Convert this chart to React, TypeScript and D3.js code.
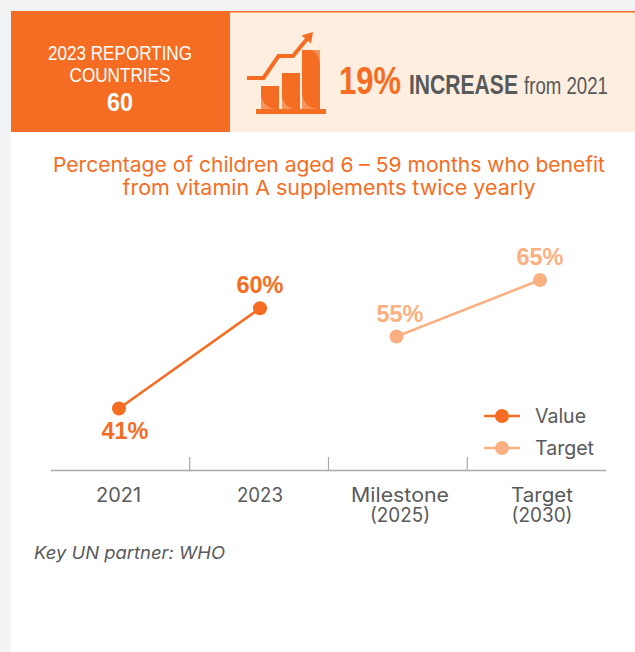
import React from "react";
import * as d3 from "d3";

const categories = ["2021", "2023", "Milestone|(2025)", "Target|(2030)"];
const valueSeries = [
  { category: categories[0], value: 41 },
  { category: categories[1], value: 60 },
];
const targetSeries = [
  { category: categories[2], value: 55 },
  { category: categories[3], value: 65 },
];
const legendItems = ["Value", "Target"];

const ORANGE = "#f56d22";
const ORANGE_LIGHT = "#f8935a";
const PEACH = "#fbb081";
const CREAM = "#feeee0";
const PAGE = "#f1f3f5";
const GREY = "#58595b";
const AXIS = "#a7a9ac";
const BODY_FONT = "Inter, 'Open Sans', sans-serif";
const HEAD_FONT = "'Liberation Sans', Arial, sans-serif";

// Axis divisions, and the slightly uneven centres the marks and labels sit on.
const band = d3.scaleBand<string>().domain(categories).range([51, 606]);
const markX = d3.scaleOrdinal<string, number>().domain(categories).range([119, 260, 396.5, 540]);
const labelX = d3.scaleOrdinal<string, number>().domain(categories).range([118.5, 260, 400, 542]);
const valueLabelX = d3.scaleOrdinal<string, number>().domain(categories).range([125, 260, 400, 540]);

// Each series runs on its own vertical scale.
const yValue = d3.scaleLinear().domain([41, 60]).range([408.5, 308.3]);
const yTarget = d3.scaleLinear().domain([55, 65]).range([336.5, 280]);

const AXIS_Y = 470.5;

type Datum = { category: string; value: number };

function Series({
  data,
  color,
  y,
  below,
}: {
  data: Datum[];
  color: string;
  y: d3.ScaleLinear<number, number>;
  below: boolean[];
}) {
  const path = d3
    .line<Datum>()
    .x((d) => markX(d.category))
    .y((d) => y(d.value));
  return (
    <g>
      <path d={path(data)!} fill="none" stroke={color} strokeWidth={2.5} />
      {data.map((d, i) => {
        const cy = y(d.value);
        return (
          <g key={d.category}>
            <circle cx={markX(d.category)} cy={cy} r={7} fill={color} />
            <text
              x={valueLabelX(d.category)}
              y={below[i] ? cy + 30 : cy - 15}
              textAnchor="middle"
              fontFamily={HEAD_FONT}
              fontWeight={700}
              fontSize={23.5}
              fill={color}
            >
              {d.value}%
            </text>
          </g>
        );
      })}
    </g>
  );
}

// Text squeezed or stretched to a set run length.
function Fit({ width, children, ...rest }: any) {
  return (
    <text textLength={width} lengthAdjust="spacingAndGlyphs" {...rest}>
      {children}
    </text>
  );
}

const axisLabelWidths: Record<string, number> = {
  "2021": 45,
  "2023": 46,
  Milestone: 98,
  "(2025)": 60,
  Target: 62,
  "(2030)": 61,
};

export default function App() {
  return (
    <svg width={635} height={652} style={{ position: "fixed", left: 0, top: 0, display: "block" }}>
      <rect width={635} height={652} fill={PAGE} />
      <rect x={11} y={11} width={624} height={641} fill="#fff" />

      {/* header band */}
      <rect x={230} y={11} width={405} height={121} fill={CREAM} />
      <rect x={230} y={11} width={405} height={1.5} fill={ORANGE} />
      <rect x={11} y={11} width={219} height={121} fill={ORANGE} />
      <g textAnchor="middle" fill="#fff" fontFamily={HEAD_FONT}>
        <Fit x={120} y={60} fontSize={21} width={144}>2023 REPORTING</Fit>
        <Fit x={120} y={82} fontSize={21} width={101}>COUNTRIES</Fit>
        <Fit x={120} y={110.5} fontSize={26.5} fontWeight={700} width={26}>60</Fit>
      </g>

      {/* rising bars icon */}
      <g>
        <rect x={261} y={86} width={18} height={23} fill={ORANGE_LIGHT} />
        <rect x={282} y={73} width={18} height={36} fill={ORANGE_LIGHT} />
        <rect x={302} y={50} width={18} height={59} fill={ORANGE_LIGHT} />
        <g fill={ORANGE}>
          <path d="M261 86H279V109H276C268 109 261 102 261 94Z" />
          <path d="M282 73H300V109H296C288 109 282 102 282 94Z" />
          <path d="M302 50H310C316 50 320 58 320 66V109H318C308 109 302 100 302 92Z" />
          <rect x={256} y={109} width={70} height={5} />
          <path d="M247 78H263.5L278.5 56H293L307 39" fill="none" stroke={ORANGE} strokeWidth={4} />
          <path d="M301.5 35.5L313 32L311 43.5Z" />
        </g>
      </g>

      <Fit x={339} y={94.3} fontFamily={HEAD_FONT} fontWeight={700} fontSize={38.5} fill={ORANGE} width={62}>19%</Fit>
      <Fit x={409} y={94.3} fontFamily={HEAD_FONT} fontWeight={700} fontSize={28} fill={GREY} width={109}>INCREASE</Fit>
      <Fit x={524} y={94.3} fontFamily={HEAD_FONT} fontSize={23.5} fill={GREY} width={84}>from 2021</Fit>

      {/* chart title */}
      <g textAnchor="middle" fontFamily={BODY_FONT} fontSize={20.5} fill={ORANGE}>
        <Fit x={329} y={172} width={552}>Percentage of children aged 6 – 59 months who benefit</Fit>
        <Fit x={329} y={194.5} width={413}>from vitamin A supplements twice yearly</Fit>
      </g>

      {/* category axis */}
      <line x1={51} x2={606} y1={AXIS_Y} y2={AXIS_Y} stroke={AXIS} strokeWidth={1.5} />
      {categories.slice(1).map((c) => (
        <line key={c} x1={band(c)!} x2={band(c)!} y1={457} y2={AXIS_Y} stroke={AXIS} strokeWidth={1.2} />
      ))}
      {categories.map((c) =>
        c.split("|").map((part, i) => (
          <Fit
            key={part}
            x={labelX(c)}
            y={501.5 + i * 20}
            textAnchor="middle"
            fontFamily={BODY_FONT}
            fontSize={19.5}
            fill={GREY}
            width={axisLabelWidths[part]}
          >
            {part}
          </Fit>
        )),
      )}

      <Series data={valueSeries} color={ORANGE} y={yValue} below={[true, false]} />
      <Series data={targetSeries} color={PEACH} y={yTarget} below={[false, false]} />

      {/* legend */}
      {legendItems.map((name, i) => {
        const ly = 416 + i * 32;
        const color = i === 0 ? ORANGE : PEACH;
        return (
          <g key={name}>
            <line x1={484} x2={520} y1={ly} y2={ly} stroke={color} strokeWidth={2.5} />
            <circle cx={502} cy={ly} r={7} fill={color} />
            <Fit x={535} y={ly + 6.5} fontFamily={BODY_FONT} fontSize={19.5} fill={GREY} width={i === 0 ? 51 : 59}>
              {name}
            </Fit>
          </g>
        );
      })}

      <Fit x={34} y={559} fontFamily={BODY_FONT} fontStyle="italic" fontSize={17.5} fill={GREY} width={191}>
        Key UN partner: WHO
      </Fit>
    </svg>
  );
}
